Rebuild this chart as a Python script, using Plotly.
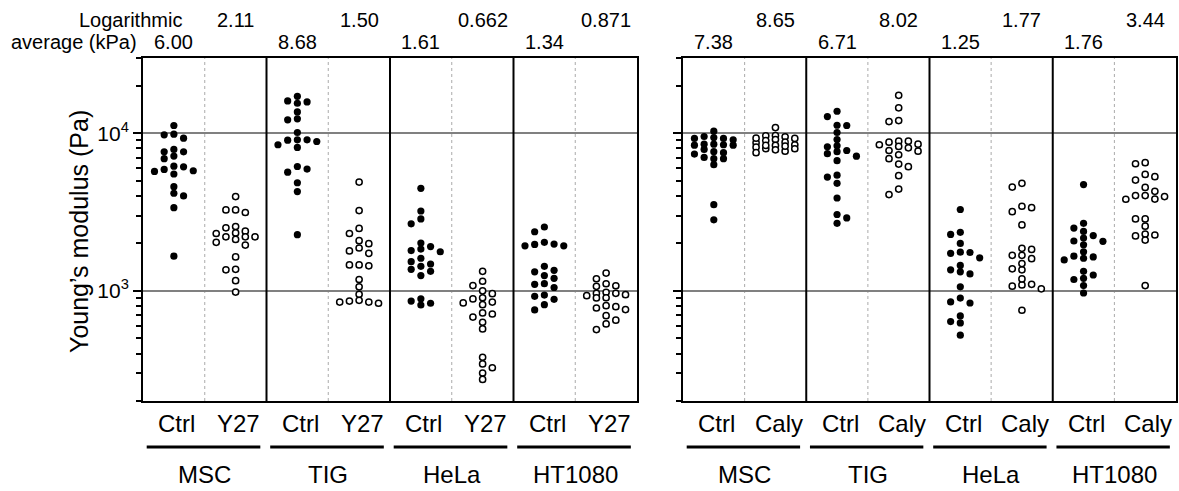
import numpy as np
import plotly.graph_objects as go

# ---------------- data ----------------
cell_lines = ["MSC", "TIG", "HeLa", "HT1080"]
left_conditions = ["Ctrl", "Y27"]
right_conditions = ["Ctrl", "Caly"]

# Young's modulus (Pa) - left panel (Ctrl vs Y27)
msc_ctrl_L = [11190, 9770, 9860, 9300, 7620, 7620, 7890, 6890, 7160, 5890, 5720, 6180, 5780, 6120, 5510, 4580, 4000, 4160, 3370, 1660]
msc_y27 = [3960, 3260, 3140, 3260, 2560, 2390, 2310, 2330, 2510, 2200, 2200, 2120, 2200, 1950, 2030, 1640, 1360, 1370, 1160, 982]
tig_ctrl_L = [17140, 15800, 15490, 16030, 13650, 12330, 12160, 10100, 9080, 8860, 9080, 8120, 8450, 9030, 6150, 5660, 5920, 4850, 4260, 2270]
tig_y27 = [4900, 3230, 2490, 2310, 2080, 1990, 1870, 1790, 1730, 1460, 1440, 1460, 1180, 1060, 950, 861, 849, 834, 849, 871]
hela_ctrl_L = [4470, 3210, 2860, 2660, 2010, 1910, 1770, 1840, 1800, 1480, 1530, 1610, 1370, 1430, 1250, 1330, 891, 834, 813, 861]
hela_y27 = [1330, 1150, 1080, 959, 888, 904, 1000, 849, 817, 838, 682, 713, 724, 632, 573, 379, 344, 325, 301, 274]
ht1080_ctrl_L = [2370, 2540, 2030, 1970, 1930, 1930, 1980, 1430, 1350, 1250, 1320, 1200, 1110, 1100, 1050, 940, 923, 883, 817, 756]
ht1080_y27 = [1296, 1193, 1077, 1068, 1109, 945, 978, 904, 964, 901, 931, 964, 793, 760, 778, 805, 696, 617, 651, 568]

# Young's modulus (Pa) - right panel (Ctrl vs Caly)
msc_ctrl_R = [10300, 9260, 9530, 9390, 9080, 9260, 8400, 8520, 8520, 8450, 8400, 7630, 7520, 7890, 7370, 7020, 6890, 6890, 6310, 3520, 2820]
msc_caly = [10860, 9670, 9120, 8450, 7970, 9490, 8700, 8150, 7690, 9300, 8770, 8360, 7970, 7520, 9630, 8990, 8360, 7850, 9260, 8280]
tig_ctrl_R = [13780, 12750, 11190, 11230, 10100, 9120, 7630, 8320, 8200, 7410, 7770, 7150, 6690, 5270, 5420, 4810, 3880, 2900, 3050, 2680]
tig_caly = [17390, 14480, 11860, 12030, 8900, 8240, 8770, 8520, 8900, 8450, 7770, 7690, 8080, 7300, 6890, 6370, 6130, 5380, 4420, 4080]
hela_ctrl_R = [3280, 2280, 2350, 2000, 1750, 1620, 1730, 1760, 1450, 1320, 1280, 1360, 1060, 850, 837, 900, 626, 638, 693, 523]
hela_caly = [4810, 4550, 3370, 3180, 3440, 2620, 1830, 1680, 1680, 1860, 1600, 1380, 1360, 1490, 1100, 1070, 1030, 1090, 1190, 753]
ht1080_ctrl_R = [4720, 2500, 2380, 2680, 2160, 2060, 1960, 2070, 2240, 1660, 1610, 1570, 1640, 1770, 1330, 1260, 1180, 1200, 1080, 969]
ht1080_caly = [6500, 6400, 5040, 5300, 5480, 4020, 3960, 3810, 3820, 4020, 4280, 4530, 2860, 2860, 2570, 2290, 2230, 2100, 2260, 1080]

# Logarithmic averages (kPa), as printed above each column
left_log_avg = ["6.00", "2.11", "8.68", "1.50", "1.61", "0.662", "1.34", "0.871"]
right_log_avg = ["7.38", "8.65", "6.71", "8.02", "1.25", "1.77", "1.76", "3.44"]

left_groups = [msc_ctrl_L, msc_y27, tig_ctrl_L, tig_y27, hela_ctrl_L, hela_y27, ht1080_ctrl_L, ht1080_y27]
right_groups = [msc_ctrl_R, msc_caly, tig_ctrl_R, tig_caly, hela_ctrl_R, hela_caly, ht1080_ctrl_R, ht1080_caly]

# ---------------- layout geometry ----------------
W, H = 1179, 491
FONT = "Liberation Sans, Arial, sans-serif"
PLOT_TOP, PLOT_BOT = 58, 401
LEFT_X = (143, 637)
RIGHT_X = (683, 1176)
Y_RANGE = [np.log10(200), np.log10(30000)]
PX_PER_DECADE = (PLOT_BOT - PLOT_TOP) / (Y_RANGE[1] - Y_RANGE[0])
COL_PX = (LEFT_X[1] - LEFT_X[0]) / 8
LANE_PX = 9.7
MIN_GAP = 5.8
MAX_LANE = 2


def swarm_offsets(values):
    """Column-lane beeswarm (lanes -2..2): returns lane offsets in x-axis units."""
    ys = np.log10(np.asarray(values, float)) * PX_PER_DECADE
    order = np.argsort(-ys)
    placed = {}
    lanes = np.zeros(len(ys))
    for i in order:
        y = ys[i]
        chosen = None
        neg = sum(len(v) for l, v in placed.items() if l < 0)
        pos = sum(len(v) for l, v in placed.items() if l > 0)
        for k in range(0, MAX_LANE + 1):
            cands = [0] if k == 0 else ([-k, k] if neg <= pos else [k, -k])
            for c in cands:
                if all(abs(y - yy) >= MIN_GAP for yy in placed.get(c, [])):
                    chosen = c
                    break
            if chosen is not None:
                break
        if chosen is None:
            best, bestd = 0, -1
            for c in range(-MAX_LANE, MAX_LANE + 1):
                d = min([abs(y - yy) for yy in placed.get(c, [])] + [1e9])
                if d > bestd:
                    best, bestd = c, d
            chosen = best
        placed.setdefault(chosen, []).append(y)
        lanes[i] = chosen
    return lanes * LANE_PX / COL_PX


fig = go.Figure()


def add_panel(groups, xaxis, yaxis):
    for ci, vals in enumerate(groups):
        xs = ci + 0.5 + swarm_offsets(vals)
        treated = ci % 2 == 1
        if treated:
            marker = dict(symbol="circle", size=6.2, color="white",
                          line=dict(color="black", width=1.5))
        else:
            marker = dict(symbol="circle", size=7.2, color="black",
                          line=dict(width=0))
        fig.add_trace(go.Scatter(x=xs, y=vals, mode="markers", marker=marker,
                                 xaxis=xaxis, yaxis=yaxis, showlegend=False,
                                 hoverinfo="y"))


add_panel(left_groups, "x", "y")
add_panel(right_groups, "x2", "y2")

ydom = [1 - PLOT_BOT / H, 1 - PLOT_TOP / H]
minor_vals = [v * m for v in (100, 1000, 10000) for m in range(2, 10) if 200 <= v * m <= 30000]

xcommon = dict(range=[0, 8], showgrid=False, zeroline=False, showticklabels=False,
               ticks="", showline=True, mirror=True, linewidth=2, linecolor="black",
               fixedrange=True)
ycommon = dict(type="log", range=Y_RANGE, domain=ydom,
               tickvals=[1000, 10000], ticktext=["10<sup>3</sup>", "10<sup>4</sup>"],
               ticks="outside", ticklen=8, tickwidth=2, tickcolor="black",
               showline=True, mirror=True, linewidth=2, linecolor="black",
               showgrid=True, gridcolor="#808080", gridwidth=2, zeroline=False,
               minor=dict(tickvals=minor_vals, ticks="outside", ticklen=5,
                          tickwidth=2, tickcolor="black", showgrid=False),
               fixedrange=True)

fig.update_layout(
    width=W, height=H,
    margin=dict(l=0, r=0, t=0, b=0),
    paper_bgcolor="white", plot_bgcolor="white",
    font=dict(family=FONT, color="black"),
    xaxis=dict(domain=[LEFT_X[0] / W, LEFT_X[1] / W], anchor="y", **xcommon),
    xaxis2=dict(domain=[RIGHT_X[0] / W, RIGHT_X[1] / W], anchor="y2", **xcommon),
    yaxis=dict(anchor="x", tickfont=dict(size=21, color="black", family=FONT), **ycommon),
    yaxis2=dict(anchor="x2", showticklabels=False, **ycommon),
)

shapes = []
annotations = []


def yp(px):
    return 1 - px / H


for xa, ya, conds, avgs in (("x", "y", left_conditions, left_log_avg),
                             ("x2", "y2", right_conditions, right_log_avg)):
    # separators
    for b in (2, 4, 6):
        shapes.append(dict(type="line", xref=xa, yref=f"{ya} domain", x0=b, x1=b, y0=0, y1=1,
                           line=dict(color="black", width=2)))
    for b in (1, 3, 5, 7):
        shapes.append(dict(type="line", xref=xa, yref=f"{ya} domain", x0=b, x1=b, y0=0, y1=1,
                           line=dict(color="#aaaaaa", width=1, dash="dot"), layer="below"))
    for gi, name in enumerate(cell_lines):
        # condition labels
        for k, cond in enumerate(conds):
            annotations.append(dict(xref=xa, yref="paper", x=2 * gi + k + 0.55, y=yp(423),
                                    text=cond, showarrow=False, yanchor="middle",
                                    font=dict(size=24, family=FONT, color="black")))
        shapes.append(dict(type="line", xref=xa, yref="paper", x0=2 * gi + 0.06, x1=2 * gi + 1.9,
                           y0=yp(447), y1=yp(447), line=dict(color="black", width=3)))
        annotations.append(dict(xref=xa, yref="paper", x=2 * gi + 1, y=yp(474),
                                text=name, showarrow=False, yanchor="middle",
                                font=dict(size=24, family=FONT, color="black")))
    # logarithmic averages
    for ci, txt in enumerate(avgs):
        annotations.append(dict(xref=xa, yref="paper", x=ci + 0.5,
                                y=yp(42 if ci % 2 == 0 else 20), text=txt, showarrow=False,
                                yanchor="middle", font=dict(size=20, family=FONT, color="black")))

annotations.append(dict(xref="paper", yref="paper", x=77 / W, y=yp(20), text="Logarithmic",
                        showarrow=False, yanchor="middle", font=dict(size=20, family=FONT, color="black")))
annotations.append(dict(xref="paper", yref="paper", x=139 / W, y=yp(42), text="average (kPa)",
                        showarrow=False, xanchor="right", yanchor="middle",
                        font=dict(size=20, family=FONT, color="black")))
annotations.append(dict(xref="paper", yref="paper", x=79 / W, y=yp(232),
                        text="Young\u2019s modulus (Pa)", textangle=-90, showarrow=False,
                        xanchor="center", yanchor="middle",
                        font=dict(size=25, family=FONT, color="black")))

fig.update_layout(shapes=shapes, annotations=annotations)
fig.write_html("out.html")
